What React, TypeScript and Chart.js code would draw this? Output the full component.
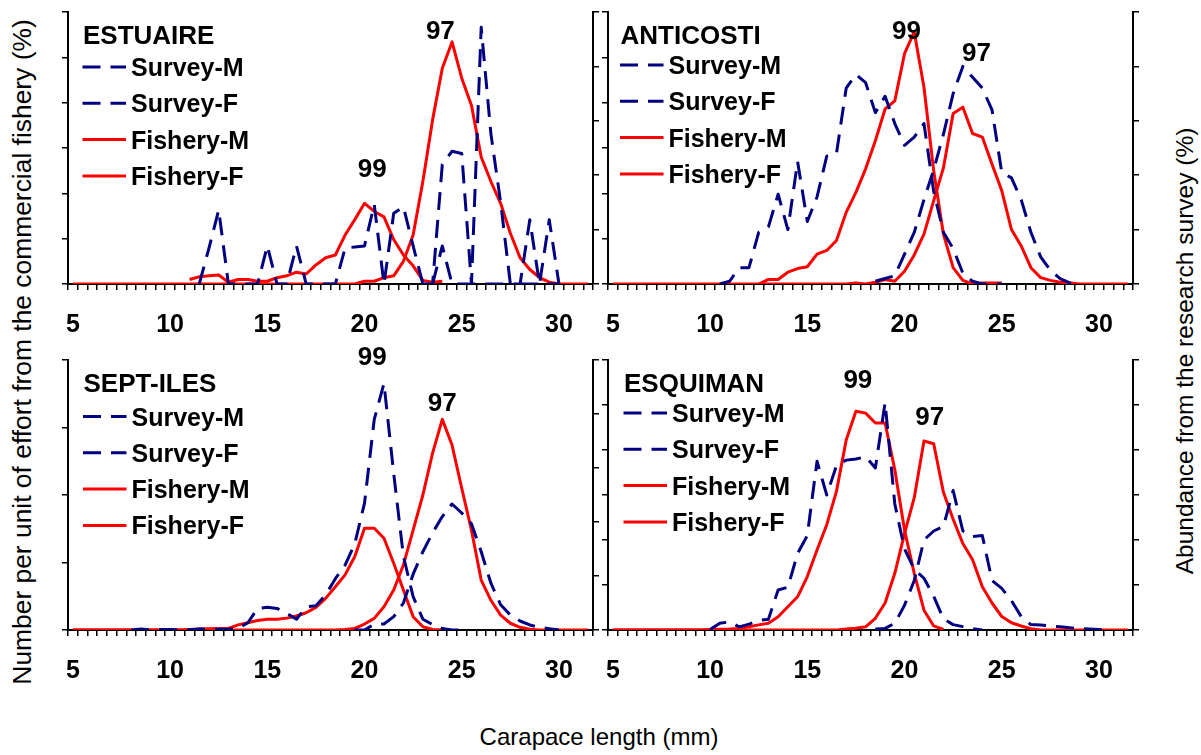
import React, { useEffect, useRef } from 'react';
import { Chart, registerables } from 'chart.js';

Chart.register(...registerables);

const FONT = "'Liberation Sans', Arial, Helvetica, sans-serif";
const NAVY = '#000080';
const RED = '#ff0000';
const _ = null;

// Carapace length classes (mm), 0.5 mm bins
const LENGTH_CLASSES = [
  '5', '5.5', '6', '6.5', '7', '7.5', '8', '8.5', '9', '9.5',
  '10', '10.5', '11', '11.5', '12', '12.5', '13', '13.5', '14', '14.5',
  '15', '15.5', '16', '16.5', '17', '17.5', '18', '18.5', '19', '19.5',
  '20', '20.5', '21', '21.5', '22', '22.5', '23', '23.5', '24', '24.5',
  '25', '25.5', '26', '26.5', '27', '27.5', '28', '28.5', '29', '29.5',
  '30', '30.5', '31', '31.5',
];
const LABELED_LENGTHS = ['5', '10', '15', '20', '25', '30'];
const FIRST_LENGTH = 5;
const BIN_WIDTH = 0.5;

// ---- ESTUAIRE ----
const EST_FISHERY_M = [
  0, 0, 0, 0, 0, 0, 0, 0, 0, 0,
  0, 0, 0, 0, 0, 0, 0, 0, 0, 0,
  0, 0, 0, 0, 0, 0, 0, 0, 0, 0,
  0.3, 0.3, 0.7, 0.9, 2.5, 5.4, 11.3, 18.1, 23.8, 26.7,
  22.7, 19.7, 14.0, 11.3, 8.9, 5.6, 2.9, 1.6, 0.7, 0.2,
  0, 0, 0, 0,
];
const EST_FISHERY_F = [
  _, _, _, _, _, _, _, _, _, _,
  _, _, 0.5, 0.8, 0.9, 1.0, 0.2, 0.5, 0.5, 0.3,
  0.3, 0.7, 0.9, 1.3, 1.1, 2.1, 2.9, 3.2, 5.4, 7.1,
  8.9, 8.0, 7.4, 4.9, 3.2, 2.0, 0.4, 0.2, 0.3, _,
  _, _, _, _, _, _, _, _, _, _,
  _, _, _, _,
];
const EST_SURVEY_M = [
  _, _, _, _, _, _, _, _, _, _,
  _, _, _, 0, 3.3, 6.8, 0, 0, 0, 0,
  3.5, 0, 0, 3.5, 0, 0, 0, 0, 3.3, 3.4,
  3.5, 7.3, 0, 6.5, 7.1, 3.5, 0, 0, 3.5, 0,
  0, 0, 0, 0, 0, 0, 0, 5.9, 0, 5.9,
  0, _, _, _,
];
const EST_SURVEY_F = [
  _, _, _, _, _, _, _, _, _, _,
  _, _, _, _, _, _, _, _, _, _,
  _, _, _, _, _, _, _, _, _, _,
  _, _, _, _, _, _, 0, 0, 11.0, 12.2,
  12.0, 0, 23.6, 13.8, 7.5, 0, 0, 0, 0, 0,
  0, _, _, _,
];
const EST_COHORTS = [
  { label: '97', length: 23.9, level: 28.1 },
  { label: '99', length: 20.4, level: 12.8 },
];

// ---- ANTICOSTI ----
const ANT_FISHERY_M = [
  0, 0, 0, 0, 0, 0, 0, 0, 0, 0,
  0, 0, 0, 0, 0, 0, 0, 0, 0, 0,
  0, 0, 0, 0, 0, 0.1, 0, 0.2, 0.5, 0.3,
  1.4, 3.2, 5.5, 9.2, 12.8, 18.8, 19.5, 16.6, 16.2, 13.2,
  10.3, 6.0, 4.2, 1.8, 0.7, 0.4, 0.2, 0.1, 0, 0,
  0, 0, 0, 0,
];
const ANT_FISHERY_F = [
  _, _, _, _, _, _, _, _, _, _,
  _, _, _, _, _, 0, 0.5, 0.5, 1.3, 1.7,
  1.9, 3.3, 3.7, 4.8, 7.9, 10.1, 12.7, 15.8, 19.3, 20.2,
  25.4, 27.8, 21.7, 12.5, 5.5, 1.8, 0.4, 0, 0.1, 0.1,
  0.1, _, _, _, _, _, _, _, _, _,
  _, _, _, _,
];
const ANT_SURVEY_M = [
  _, _, _, _, _, _, _, _, _, _,
  _, 0, 0.1, 0.6, 0.6, 1.9, 2.1, 3.3, 2.0, 4.5,
  2.3, 3.2, 4.7, 4.8, 7.2, 7.7, 7.4, 6.3, 6.9, 5.9,
  5.1, 5.4, 5.9, 3.4, 1.9, 1.3, 0.4, 0.1, 0, 0,
  0, _, _, _, _, _, _, _, _, _,
  _, _, _, _,
];
const ANT_SURVEY_F = [
  _, _, _, _, _, _, _, _, _, _,
  _, _, _, _, _, _, _, _, _, _,
  _, _, _, _, _, _, _, 0.1, 0.2, 0.3,
  1.1, 1.9, 3.1, 4.2, 5.5, 7.0, 8.0, 7.6, 7.2, 6.4,
  4.1, 3.9, 3.1, 1.9, 1.0, 0.5, 0.2, 0.04, 0, _,
  _, _, _, _,
];
const ANT_COHORTS = [
  { label: '99', length: 20.1, level: 28.1 },
  { label: '97', length: 23.7, level: 25.6 },
];

// ---- SEPT-ILES ----
const SEP_FISHERY_M = [
  0, 0, 0, 0, 0, 0, 0, 0, 0, 0,
  0, 0, 0, 0, 0, 0, 0, 0, 0, 0,
  0, 0, 0, 0, 0, 0, 0, 0, 0.04, 0.12,
  0.44, 0.86, 1.72, 2.96, 4.82, 7.4, 10.0, 13.1, 15.6, 13.7,
  10.5, 7.4, 3.7, 2.2, 1.1, 0.5, 0.2, 0.06, 0, 0,
  0, 0, 0, 0,
];
const SEP_FISHERY_F = [
  0, 0, 0, 0, 0, 0, 0, 0, 0, 0,
  0, 0, 0.04, 0.08, 0.1, 0.12, 0.12, 0.38, 0.54, 0.7,
  0.8, 0.8, 0.88, 1.04, 1.28, 1.68, 2.34, 3.2, 4.08, 5.44,
  7.54, 7.54, 6.8, 4.94, 2.96, 0.98, 0.24, 0.04, 0, _,
  _, _, _, _, _, _, _, _, _, _,
  _, _, _, _,
];
const SEP_SURVEY_M = [
  _, _, _, _, _, _, 0, 0.05, 0, 0.03,
  0.03, 0, 0.02, 0.05, 0.05, 0.04, 0.04, 0.08, 0.4, 1.2,
  1.26, 1.2, 0.93, 0.6, 1.28, 1.35, 1.95, 2.85, 3.6, 4.8,
  7.05, 11.7, 13.7, 8.7, 4.1, 1.85, 0.6, 0.3, 0.08, 0,
  0, _, _, _, _, _, _, _, _, _,
  _, _, _, _,
];
const SEP_SURVEY_F = [
  _, _, _, _, _, _, _, _, _, _,
  _, _, _, _, _, _, _, _, _, _,
  _, _, _, _, _, _, _, _, _, 0,
  0, 0.33, 0.33, 0.74, 1.5, 3.1, 4.35, 5.4, 6.3, 7.0,
  6.5, 5.9, 4.35, 2.6, 1.4, 0.83, 0.5, 0.28, 0.15, 0.07,
  0, _, _, _,
];
const SEP_COHORTS = [
  { label: '99', length: 20.4, level: 20.3 },
  { label: '97', length: 24.0, level: 16.9 },
];

// ---- ESQUIMAN ----
const ESQ_FISHERY_M = [
  0, 0, 0, 0, 0, 0, 0, 0, 0, 0,
  0, 0, 0, 0, 0, 0, 0, 0, 0, 0,
  0, 0, 0, 0, 0.1, 0.2, 0.36, 1.3, 3.0, 6.3,
  10.7, 14.7, 21.0, 20.7, 15.3, 12.3, 9.6, 7.8, 4.8, 3.0,
  1.5, 0.8, 0.45, 0.15, 0, 0, 0, 0, 0, 0,
  0, 0, 0, 0,
];
const ESQ_FISHERY_F = [
  0, 0, 0, 0, 0, 0, 0, 0, 0, 0,
  0.06, 0.09, 0.12, 0.18, 0.36, 0.57, 0.75, 1.47, 2.58, 3.69,
  5.94, 8.88, 11.7, 15.4, 21.1, 24.3, 24.1, 23.0, 23.0, 17.8,
  11.1, 6.3, 2.2, 0.45, 0.06, _, _, _, _, _,
  _, _, _, _, _, _, _, _, _, _,
  _, _, _, _,
];
const ESQ_SURVEY_M = [
  _, _, _, _, _, _, _, _, _, _,
  0.02, 0.3, 0.36, 0.14, 0.26, 0.42, 0.48, 1.78, 1.9, 3.4,
  4.2, 7.5, 6.0, 7.3, 7.55, 7.6, 7.7, 7.2, 10.1, 5.6,
  3.6, 2.7, 2.3, 1.5, 0.5, 0.24, 0.15, 0.06, 0, _,
  _, _, _, _, _, _, _, _, _, _,
  _, _, _, _,
];
const ESQ_SURVEY_F = [
  _, _, _, _, _, _, _, _, _, _,
  _, _, _, _, _, _, _, _, _, _,
  _, _, _, _, _, _, _, 0.04, 0.07, 0.3,
  1.1, 2.2, 4.0, 4.4, 4.6, 6.2, 4.4, 4.15, 4.2, 2.2,
  1.85, 1.3, 0.6, 0.24, 0.22, 0.18, 0.14, 0.1, 0.06, 0.04,
  0.02, 0, _, _,
];
const ESQ_COHORTS = [
  { label: '99', length: 17.6, level: 27.9 },
  { label: '97', length: 21.3, level: 23.8 },
];

const SERIES_NAMES = ['Survey-M', 'Survey-F', 'Fishery-M', 'Fishery-F'];

type Cohort = { label: string; length: number; level: number };
type PanelDef = {
  title: string;
  left: number;
  top: number;
  width: number;
  height: number;
  box: { left: number; right: number; top: number; bottom: number };
  surveyM: (number | null)[];
  surveyF: (number | null)[];
  fisheryM: (number | null)[];
  fisheryF: (number | null)[];
  fisheryMax: number;
  fisheryStep: number;
  surveyMax: number;
  surveyStep: number;
  legendX: number;
  legendY: number;
  cohorts: Cohort[];
};

// Each canvas leaves 28 px on the left and 27 px on the right for the value axes.
const PANELS: PanelDef[] = [
  {
    title: 'ESTUAIRE', left: 40, top: 0, width: 580, height: 350,
    box: { left: 28, right: 27, top: 12, bottom: 66 },
    surveyM: EST_SURVEY_M, surveyF: EST_SURVEY_F, fisheryM: EST_FISHERY_M, fisheryF: EST_FISHERY_F,
    fisheryMax: 30, fisheryStep: 5, surveyMax: 25, surveyStep: 5,
    legendX: 15, legendY: 55, cohorts: EST_COHORTS,
  },
  {
    title: 'ANTICOSTI', left: 580, top: 0, width: 580, height: 350,
    box: { left: 28, right: 27, top: 12, bottom: 66 },
    surveyM: ANT_SURVEY_M, surveyF: ANT_SURVEY_F, fisheryM: ANT_FISHERY_M, fisheryF: ANT_FISHERY_F,
    fisheryMax: 30, fisheryStep: 5, surveyMax: 10, surveyStep: 2,
    legendX: 12.5, legendY: 53, cohorts: ANT_COHORTS,
  },
  {
    title: 'SEPT-ILES', left: 40, top: 340, width: 580, height: 360,
    box: { left: 28, right: 27, top: 20, bottom: 70 },
    surveyM: SEP_SURVEY_M, surveyF: SEP_SURVEY_F, fisheryM: SEP_FISHERY_M, fisheryF: SEP_FISHERY_F,
    fisheryMax: 20, fisheryStep: 5, surveyMax: 15, surveyStep: 3,
    legendX: 15.5, legendY: 56.5, cohorts: SEP_COHORTS,
  },
  {
    title: 'ESQUIMAN', left: 580, top: 340, width: 580, height: 360,
    box: { left: 28, right: 27, top: 20, bottom: 70 },
    surveyM: ESQ_SURVEY_M, surveyF: ESQ_SURVEY_F, fisheryM: ESQ_FISHERY_M, fisheryF: ESQ_FISHERY_F,
    fisheryMax: 30, fisheryStep: 5, surveyMax: 12, surveyStep: 2,
    legendX: 16, legendY: 53, cohorts: ESQ_COHORTS,
  },
];

const SURVEY_DASH = [18, 10];
const LINE_WIDTH = 3;
const LEGEND_SIZE = 25;
const TITLE_SIZE = 26;
const COHORT_SIZE = 26;
const TICK_SIZE = 25;

// Draws the panel name, the in-plot legend and the cohort year labels.
const panelDecor = {
  id: 'panelDecor',
  afterDatasetsDraw(chart: any, _args: any, opts: any) {
    const { ctx, chartArea, scales } = chart;
    const def: PanelDef = opts.panel;
    ctx.save();
    ctx.fillStyle = '#000';
    ctx.textBaseline = 'alphabetic';
    ctx.textAlign = 'left';
    const x0 = chartArea.left + def.legendX;

    ctx.font = `bold ${TITLE_SIZE}px ${FONT}`;
    ctx.fillText(def.title, x0, chartArea.top + 23 + TITLE_SIZE * 0.36);

    const styles = [
      { color: NAVY, dash: SURVEY_DASH },
      { color: NAVY, dash: SURVEY_DASH },
      { color: RED, dash: [] as number[] },
      { color: RED, dash: [] as number[] },
    ];
    ctx.font = `bold ${LEGEND_SIZE}px ${FONT}`;
    SERIES_NAMES.forEach((name, i) => {
      const y = chartArea.top + def.legendY + i * 36.3;
      ctx.beginPath();
      ctx.setLineDash(styles[i].dash);
      ctx.strokeStyle = styles[i].color;
      ctx.lineWidth = LINE_WIDTH;
      ctx.moveTo(x0 - 0.5, y);
      ctx.lineTo(x0 + 43, y);
      ctx.stroke();
      ctx.setLineDash([]);
      ctx.fillText(name, x0 + 48, y + LEGEND_SIZE * 0.36);
    });

    ctx.textAlign = 'center';
    ctx.font = `bold ${COHORT_SIZE}px ${FONT}`;
    def.cohorts.forEach((c) => {
      const x = scales.x.getPixelForValue((c.length - FIRST_LENGTH) / BIN_WIDTH);
      const y = scales.yFishery.getPixelForValue(c.level);
      ctx.fillText(c.label, x, y + COHORT_SIZE * 0.36);
    });
    ctx.restore();
  },
};

function buildConfig(def: PanelDef): any {
  const lineBase = {
    pointRadius: 0,
    borderWidth: LINE_WIDTH,
    tension: 0,
    spanGaps: false,
    borderJoinStyle: 'round',
    fill: false,
  };
  return {
    type: 'line',
    data: {
      labels: LENGTH_CLASSES,
      datasets: [
        { ...lineBase, label: SERIES_NAMES[0], data: def.surveyM, borderColor: NAVY, borderDash: SURVEY_DASH, yAxisID: 'ySurvey' },
        { ...lineBase, label: SERIES_NAMES[1], data: def.surveyF, borderColor: NAVY, borderDash: SURVEY_DASH, yAxisID: 'ySurvey' },
        { ...lineBase, label: SERIES_NAMES[2], data: def.fisheryM, borderColor: RED, yAxisID: 'yFishery' },
        { ...lineBase, label: SERIES_NAMES[3], data: def.fisheryF, borderColor: RED, yAxisID: 'yFishery' },
      ],
    },
    options: {
      responsive: false,
      animation: false,
      events: [],
      devicePixelRatio: 1,
      layout: { padding: { top: def.box.top, left: 0, right: 0, bottom: 0 } },
      plugins: {
        legend: { display: false },
        tooltip: { enabled: false },
        title: { display: false },
        panelDecor: { panel: def },
      },
      scales: {
        x: {
          type: 'category',
          offset: true,
          grid: { offset: true, drawOnChartArea: false, drawTicks: true, tickLength: 6, color: '#000', lineWidth: 1.5 },
          border: { display: true, color: '#000', width: 2 },
          ticks: {
            autoSkip: false,
            maxRotation: 0,
            minRotation: 0,
            padding: 20,
            color: '#000',
            font: { family: FONT, size: TICK_SIZE, weight: 'bold' },
            callback: (_v: any, index: number) => {
              const l = LENGTH_CLASSES[index];
              return LABELED_LENGTHS.includes(l) ? l : '';
            },
          },
          afterFit: (s: any) => { s.height = def.box.bottom; },
        },
        yFishery: {
          type: 'linear',
          position: 'left',
          min: 0,
          max: def.fisheryMax,
          ticks: { display: false, stepSize: def.fisheryStep },
          grid: { drawOnChartArea: false, drawTicks: true, tickLength: 6, color: '#000', lineWidth: 1.5 },
          border: { display: true, color: '#000', width: 2 },
          afterFit: (s: any) => { s.width = def.box.left; },
        },
        ySurvey: {
          type: 'linear',
          position: 'right',
          min: 0,
          max: def.surveyMax,
          ticks: { display: false, stepSize: def.surveyStep },
          grid: { drawOnChartArea: false, drawTicks: true, tickLength: 6, color: '#000', lineWidth: 1.5 },
          border: { display: true, color: '#000', width: 2 },
          afterFit: (s: any) => { s.width = def.box.right; },
        },
      },
    },
    plugins: [panelDecor],
  };
}

function Panel({ def }: { def: PanelDef }) {
  const ref = useRef<HTMLCanvasElement>(null);
  useEffect(() => {
    if (!ref.current) return;
    const chart = new Chart(ref.current, buildConfig(def));
    return () => chart.destroy();
  }, [def]);
  return (
    <canvas
      ref={ref}
      width={def.width}
      height={def.height}
      style={{ position: 'absolute', left: def.left, top: def.top, width: def.width, height: def.height }}
    />
  );
}

const titleStyle: React.CSSProperties = {
  position: 'absolute',
  whiteSpace: 'nowrap',
  fontFamily: FONT,
  color: '#000',
  lineHeight: 1,
};

export default function App() {
  return (
    <div style={{ position: 'absolute', left: 0, top: 0, width: 1201, height: 755, background: '#fff', overflow: 'hidden' }}>
      {PANELS.map((p) => (
        <Panel key={p.title} def={p} />
      ))}
      <div style={{ ...titleStyle, left: 22, top: 352, fontSize: 26.4, transform: 'translate(-50%, -50%) rotate(-90deg)' }}>
        Number per unit of effort from the commercial fishery (%)
      </div>
      <div style={{ ...titleStyle, left: 1185, top: 351, fontSize: 24.5, transform: 'translate(-50%, -50%) rotate(-90deg)' }}>
        Abundance from the research survey (%)
      </div>
      <div style={{ ...titleStyle, left: 599, top: 737, fontSize: 24, transform: 'translate(-50%, -50%)' }}>
        Carapace length (mm)
      </div>
    </div>
  );
}
